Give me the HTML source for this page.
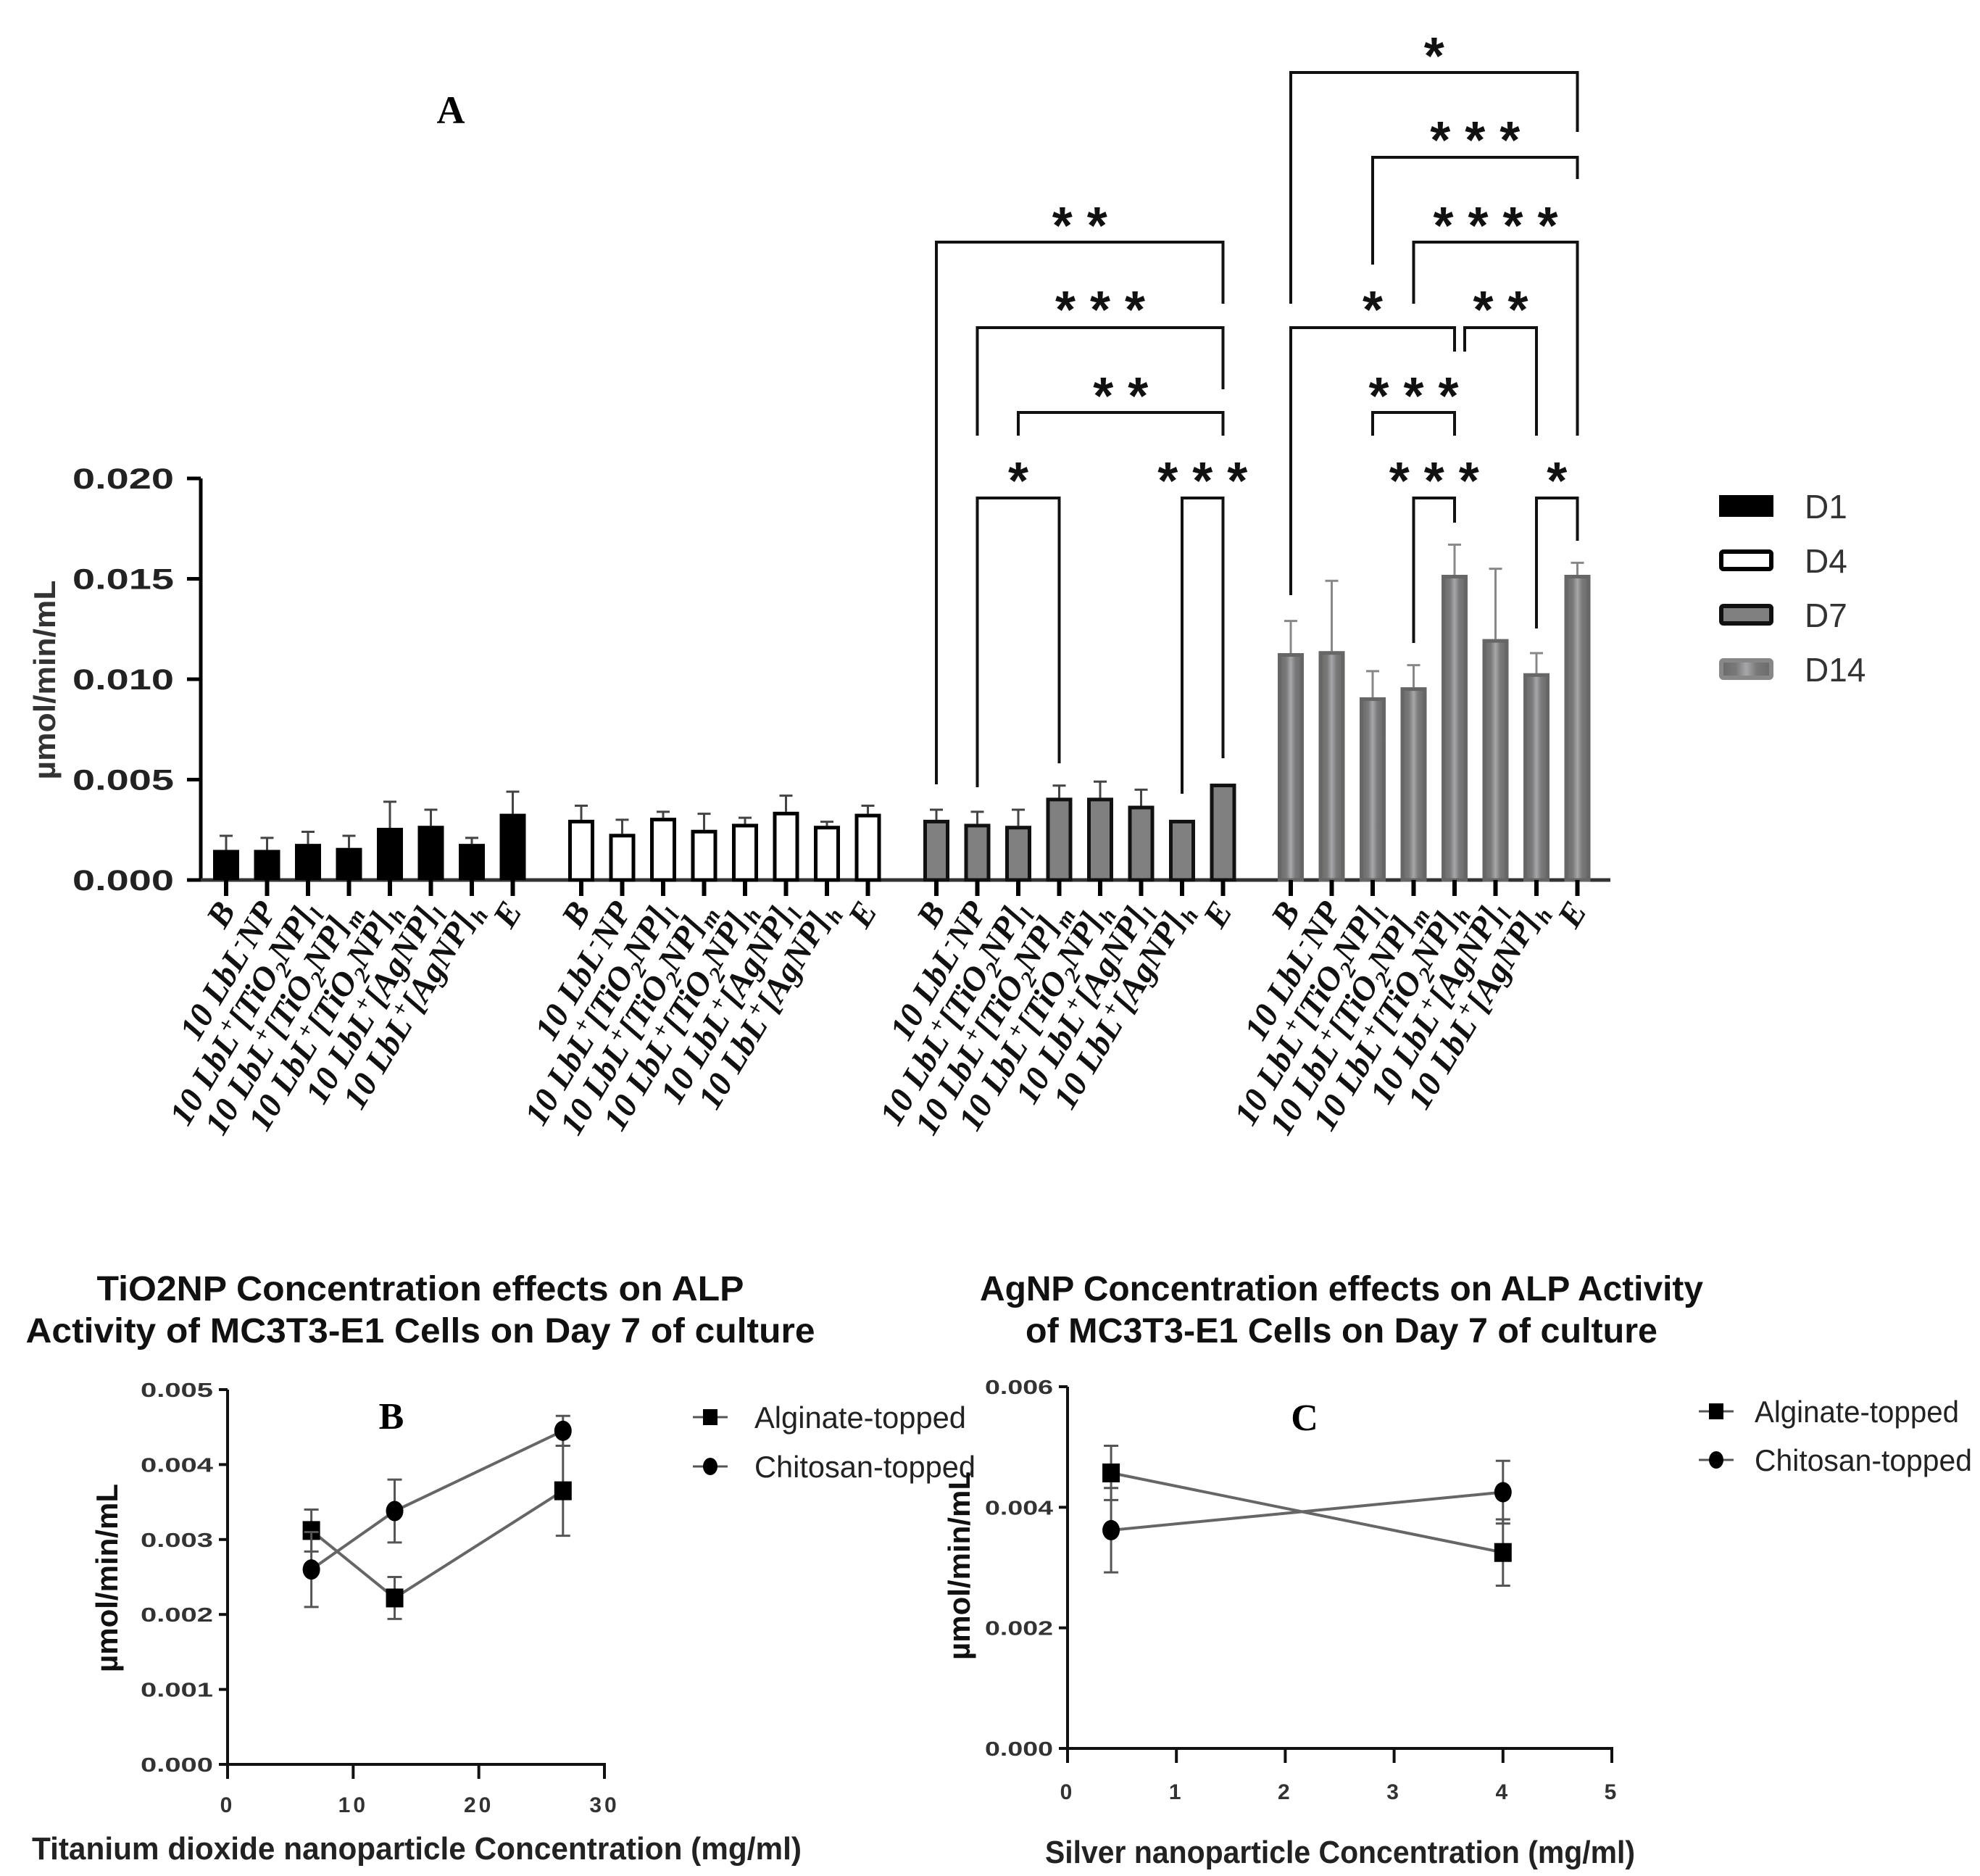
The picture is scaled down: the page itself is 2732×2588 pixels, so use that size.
<!DOCTYPE html>
<html><head><meta charset="utf-8"><style>
html,body{margin:0;padding:0;background:#fff}
svg{display:block}
</style></head><body>
<svg id="fig" width="2732" height="2588" viewBox="0 0 2732 2588" xmlns="http://www.w3.org/2000/svg">
<defs>
<linearGradient id="d14g" x1="0" x2="1" y1="0" y2="0">
<stop offset="0" stop-color="#6a6a6a"/><stop offset="0.3" stop-color="#7a7a7a"/><stop offset="0.5" stop-color="#a8a8ac"/><stop offset="0.7" stop-color="#7a7a7a"/><stop offset="1" stop-color="#6a6a6a"/>
</linearGradient>
</defs>
<g id="chartA"></g>
<g id="chartB"></g>
<g id="chartC"></g>
</svg>
<script>
// ---------- Chart A data ----------
const aCategories = ["B","10 LbL-NP","TiO2 l","TiO2 m","TiO2 h","AgNP l","AgNP h","E"];
const aSeriesNames = ["D1","D4","D7","D14"];
const aD1 = [0.0015,0.0015,0.0018,0.0016,0.0026,0.0027,0.0018,0.0033];
const aD1err = [0.0007,0.0006,0.0006,0.0006,0.0013,0.0008,0.0003,0.0011];
const aD4 = [0.0030,0.0023,0.0031,0.0025,0.0028,0.0034,0.0027,0.0033];
const aD4err = [0.0007,0.0007,0.0003,0.0008,0.0003,0.0008,0.0002,0.0004];
const aD7 = [0.0030,0.0028,0.0027,0.0041,0.0041,0.0037,0.0030,0.0048];
const aD7err = [0.0005,0.0006,0.0008,0.0006,0.0008,0.0008,0.0,0.0];
const aD14 = [0.0113,0.0114,0.0091,0.0096,0.0152,0.0120,0.0103,0.0152];
const aD14err = [0.0016,0.0035,0.0013,0.0011,0.0015,0.0035,0.0010,0.0006];
const aTicks = [0,0.005,0.010,0.015,0.020];
const aTickLabels = ["0.000","0.005","0.010","0.015","0.020"];
// ---------- Chart B data ----------
const bX = [6.67,13.3,26.7];
const bAlg = [0.00312,0.00222,0.00365];
const bAlgErr = [0.00028,0.00028,0.0006];
const bChi = [0.0026,0.00338,0.00445];
const bChiErr = [0.0005,0.00042,0.0002];
const bXTicks = [0,10,20,30];
const bYTicks = [0,0.001,0.002,0.003,0.004,0.005];
const bYTickLabels = ["0.000","0.001","0.002","0.003","0.004","0.005"];
// ---------- Chart C data ----------
const cX = [0.4,4];
const cAlg = [0.00457,0.00325];
const cAlgErr = [0.00045,0.00055];
const cChi = [0.00362,0.00425];
const cChiErr = [0.0007,0.00052];
const cXTicks = [0,1,2,3,4,5];
const cYTicks = [0,0.002,0.004,0.006];
const cYTickLabels = ["0.000","0.002","0.004","0.006"];

const NS="http://www.w3.org/2000/svg";
function mk(parent,tag,attrs,text){const e=document.createElementNS(NS,tag);for(const k in attrs)e.setAttribute(k,attrs[k]);if(text!==undefined)e.textContent=text;parent.appendChild(e);return e;}

// ================= Chart A =================
(function(){
const g=document.getElementById('chartA');
const y0=1214, yTop=660, vmax=0.020;
const yA=v=>y0-(v/vmax)*(y0-yTop);
const groupStart=[312,802,1292,1781], step=56.5, bw=36;
const xA=(gi,i)=>groupStart[gi]+i*step;
const series=[aD1,aD4,aD7,aD14], errs=[aD1err,aD4err,aD7err,aD14err];
const fills=["#000","#fff","#808080","url(#d14g)"], strokes=["#000","#000","#111","#666"];
let ax=mk(g,'line',{x1:277,y1:yTop,x2:277,y2:y0+2,stroke:'#000','stroke-width':5});

ax=mk(g,'line',{x1:275,y1:y0,x2:2222,y2:y0,stroke:'#333','stroke-width':5});

aTicks.forEach((t,i)=>{
 const y=yA(t);
 let l=mk(g,'line',{x1:258,y1:y,x2:277,y2:y,stroke:'#000','stroke-width':5});
 
 let tx=mk(g,'text',{x:240,y:y+14,'text-anchor':'end','font-family':'Liberation Sans, sans-serif','font-weight':'bold','font-size':40,textLength:140,lengthAdjust:'spacingAndGlyphs',fill:'#222'},aTickLabels[i]);
 
});
let yt=mk(g,'text',{x:0,y:0,transform:'translate(76,938) rotate(-90)','text-anchor':'middle','font-family':'Liberation Sans, sans-serif','font-weight':'bold','font-size':42,textLength:275,lengthAdjust:'spacingAndGlyphs',fill:'#333'},'µmol/min/mL');

let tA=mk(g,'text',{x:622,y:170,'text-anchor':'middle','font-family':'Liberation Serif, serif','font-weight':'bold','font-size':54},'A');

series.forEach((s,gi)=>{
 s.forEach((v,i)=>{
  const cx=xA(gi,i), yv=yA(v);
  const ec=gi==3?'#888':'#444';
  const e=errs[gi][i];
  if(e>0){
   let el=mk(g,'line',{x1:cx,y1:yA(v+e),x2:cx,y2:yv,stroke:ec,'stroke-width':3});
   
   let ec2=mk(g,'line',{x1:cx-9,y1:yA(v+e),x2:cx+9,y2:yA(v+e),stroke:ec,'stroke-width':3});
   
  }
  const sw=gi==0?0:5;
  let r=mk(g,'rect',{x:cx-bw/2+sw/2,y:yv+sw/2,width:bw-sw,height:Math.max(0,y0-yv-sw/2),fill:fills[gi],stroke:strokes[gi],'stroke-width':sw});
  if(gi==0){r.setAttribute('x',cx-bw/2);r.setAttribute('y',yv);r.setAttribute('width',bw);r.setAttribute('height',y0-yv);}
  
  
  let tk=mk(g,'line',{x1:cx,y1:y0,x2:cx,y2:y0+22,stroke:'#000','stroke-width':6});
  
  const lbl=mk(g,'text',{x:0,y:0,transform:'translate('+(cx+14)+',1256) rotate(-59)','text-anchor':'end','font-family':'Liberation Serif, serif','font-weight':'bold','font-style':'italic','font-size':47,fill:'#111'});
  
  
  const parts=[
   [["B"]],
   [["10 LbL"],["-","sup"],["NP"]],
   [["10 LbL"],["+","sup"],["[TiO"],["2","sub"],["NP]"],["l","sub"]],
   [["10 LbL"],["+","sup"],["[TiO"],["2","sub"],["NP]"],["m","sub"]],
   [["10 LbL"],["+","sup"],["[TiO"],["2","sub"],["NP]"],["h","sub"]],
   [["10 LbL"],["+","sup"],["[AgNP]"],["l","sub"]],
   [["10 LbL"],["+","sup"],["[AgNP]"],["h","sub"]],
   [["E"]]][i];
  let last=0;
  parts.forEach(p=>{
   const ts=mk(lbl,'tspan',{},p[0]);
   if(p[1]){ts.setAttribute('font-size',31);const d=p[1]=='sub'?11:-17;ts.setAttribute('dy',d+last);last=-d;}
   else {ts.setAttribute('dy',last);last=0;}
  });
 });
});
const brackets=[
 [2,0,7,334,1082,419,0,"**",296],[2,1,7,452,601,537,0,"***",412],[2,2,7,569,601,601,0,"**",531],
 [2,1,3,687,1086,1053,0,"*",648],[2,6,7,687,1095,1046,0,"***",648],
 [3,0,7,100,419,182,0,"*",62],[3,2,7,217,365,247,0,"***",178],[3,3,7,334,419,601,0,"****",296],
 [3,0,4,452,821,485,0,"*",412],[3,4,6,452,485,601,14,"**",412],[3,2,4,569,601,601,0,"***",531],
 [3,3,4,687,887,721,0,"***",648],[3,6,7,687,867,746,0,"*",648]];
brackets.forEach(b=>{
 const xl=xA(b[0],b[1])+b[6], xr=xA(b[0],b[2]);
 let p=mk(g,'path',{d:'M'+xl+','+b[4]+' V'+b[3]+' H'+xr+' V'+b[5],fill:'none',stroke:'#111','stroke-width':4});
 
 let s=mk(g,'text',{x:(xl+xr)/2+10,y:b[8]+40,'text-anchor':'middle','font-family':'Liberation Sans, sans-serif','font-weight':'bold','font-size':72,'letter-spacing':20,fill:'#111'},b[7]);
 
});
const legY=[683,758,833,908];
aSeriesNames.forEach((n,i)=>{
 const sw=i==0?0:6;
 let r=mk(g,'rect',{x:2372+sw/2,y:legY[i]+sw/2,width:75-sw,height:30-sw,fill:fills[i],stroke:i==3?'#888':strokes[i],'stroke-width':sw,rx:i==0?0:3});
 
 let t=mk(g,'text',{x:2490,y:legY[i]+32,'font-family':'Liberation Sans, sans-serif','font-size':46,fill:'#333'},n);
 
});
})();

// ================= Line charts =================
function lineChart(gid,cfg){
 const g=document.getElementById(gid);
 const xS=v=>cfg.x0+(v-cfg.xmin)/(cfg.xmax-cfg.xmin)*(cfg.x1-cfg.x0);
 const yS=v=>cfg.y0-(v/cfg.ymax)*(cfg.y0-cfg.y1);
 cfg.title.forEach((t,i)=>{let e=mk(g,'text',{x:cfg.titleX,y:cfg.titleY+i*58,'text-anchor':'middle','font-family':'Liberation Sans, sans-serif','font-weight':'bold','font-size':48,textLength:cfg.titleLen[i],lengthAdjust:'spacingAndGlyphs',fill:'#111'},t);
  });
 let a=mk(g,'line',{x1:cfg.x0,y1:cfg.y1,x2:cfg.x0,y2:cfg.y0+20,stroke:'#111','stroke-width':4});
 
 a=mk(g,'line',{x1:cfg.x0-12,y1:cfg.y0,x2:cfg.x1+2,y2:cfg.y0,stroke:'#111','stroke-width':4});
 
 cfg.yTicks.forEach((t,i)=>{const y=yS(t);
  let l=mk(g,'line',{x1:cfg.x0-12,y1:y,x2:cfg.x0,y2:y,stroke:'#111','stroke-width':4});
  
  let tx=mk(g,'text',{x:cfg.x0-20,y:y+10,'text-anchor':'end','font-family':'Liberation Sans, sans-serif','font-weight':'bold','font-size':28,textLength:cfg.yLabLen,lengthAdjust:'spacingAndGlyphs',fill:'#333'},cfg.yTickLabels[i]);
  });
 cfg.xTicks.forEach(t=>{const x=xS(t);
  let l=mk(g,'line',{x1:x,y1:cfg.y0,x2:x,y2:cfg.y0+20,stroke:'#111','stroke-width':4});
  
  let tx=mk(g,'text',{x:x,y:cfg.xLabY,'text-anchor':'middle','font-family':'Liberation Sans, sans-serif','font-weight':'bold','font-size':30,'letter-spacing':4,fill:'#333'},String(t));
  });
 let xt=mk(g,'text',{x:cfg.xTitleX,y:cfg.xTitleY,'text-anchor':'middle','font-family':'Liberation Sans, sans-serif','font-weight':'bold','font-size':44,textLength:cfg.xTitleLen,lengthAdjust:'spacingAndGlyphs',fill:'#222'},cfg.xTitle);
 
 let yt=mk(g,'text',{x:0,y:0,transform:'translate('+cfg.yTitleX+','+cfg.yTitleY+') rotate(-90)','text-anchor':'middle','font-family':'Liberation Sans, sans-serif','font-weight':'bold','font-size':42,textLength:260,lengthAdjust:'spacingAndGlyphs',fill:'#111'},'µmol/min/mL');
 
 let pl=mk(g,'text',{x:cfg.panelX,y:cfg.panelY+18,'text-anchor':'middle','font-family':'Liberation Serif, serif','font-weight':'bold','font-size':52},cfg.panel);
 
 const ser=[[cfg.alg,cfg.algErr,'square','alginate-topped'],[cfg.chi,cfg.chiErr,'circle','chitosan-topped']];
 ser.forEach(s=>{
  const pts=cfg.xs.map((x,i)=>xS(x)+','+yS(s[0][i])).join(' ');
  let pl=mk(g,'polyline',{points:pts,fill:'none',stroke:'#666','stroke-width':4});
  
  cfg.xs.forEach((x,i)=>{
   const cx=xS(x),cy=yS(s[0][i]),e=s[1][i];
   let el=mk(g,'path',{d:'M'+(cx-10)+','+yS(s[0][i]+e)+' H'+(cx+10)+' M'+cx+','+yS(s[0][i]+e)+' V'+yS(s[0][i]-e)+' M'+(cx-10)+','+yS(s[0][i]-e)+' H'+(cx+10),stroke:'#555','stroke-width':3,fill:'none'});
   
   let m;
   if(s[2]=='square'){m=mk(g,'rect',{x:cx-12,y:cy-13,width:24,height:26,fill:'#000'});}
   else {m=mk(g,'ellipse',{cx:cx,cy:cy,rx:12,ry:14,fill:'#000'});}
   
  });
 });
 cfg.legY.forEach((ly,i)=>{
  let l=mk(g,'line',{x1:cfg.legX-24,y1:ly,x2:cfg.legX+24,y2:ly,stroke:'#555','stroke-width':3});
  
  let m=i==0?mk(g,'rect',{x:cfg.legX-10,y:ly-11,width:20,height:22,fill:'#000'}):mk(g,'ellipse',{cx:cfg.legX,cy:ly,rx:10,ry:12,fill:'#000'});
  
  let t=mk(g,'text',{x:cfg.legX+cfg.legOff,y:ly+15,'font-family':'Liberation Sans, sans-serif','font-size':42,textLength:cfg.legLen[i],lengthAdjust:'spacingAndGlyphs',fill:'#222'},i==0?'Alginate-topped':'Chitosan-topped');
  
 });
}
lineChart('chartB',{x0:314,x1:834,xmin:0,xmax:30,y0:2434,y1:1917,ymax:0.005,xs:bX,alg:bAlg,algErr:bAlgErr,chi:bChi,chiErr:bChiErr,
 xTicks:bXTicks,yTicks:bYTicks,yTickLabels:bYTickLabels,title:["TiO2NP Concentration effects on ALP","Activity of MC3T3-E1 Cells on Day 7 of culture"],titleLen:[893,1089],
 titleX:580,titleY:1794,xLabY:2500,xTitle:"Titanium dioxide nanoparticle Concentration (mg/ml)",xTitleLen:1062,xTitleX:575,xTitleY:2565,yTitleX:162,yTitleY:2177,
 panel:"B",panelX:540,panelY:1953,legX:980,legY:[1955,2023],legOff:61,legLen:[292,305],yLabLen:100});
lineChart('chartC',{x0:1473,x1:2224,xmin:0,xmax:5,y0:2412,y1:1913,ymax:0.006,xs:cX,alg:cAlg,algErr:cAlgErr,chi:cChi,chiErr:cChiErr,
 xTicks:cXTicks,yTicks:cYTicks,yTickLabels:cYTickLabels,title:["AgNP Concentration effects on ALP Activity","of MC3T3-E1 Cells on Day 7 of culture"],titleLen:[998,872],
 titleX:1851,titleY:1794,xLabY:2482,xTitle:"Silver nanoparticle Concentration (mg/ml)",xTitleLen:814,xTitleX:1849,xTitleY:2570,yTitleX:1338,yTitleY:2160,
 panel:"C",panelX:1800,panelY:1955,legX:2368,legY:[1947,2014],legOff:53,legLen:[282,300],yLabLen:94});
</script>
</body></html>
